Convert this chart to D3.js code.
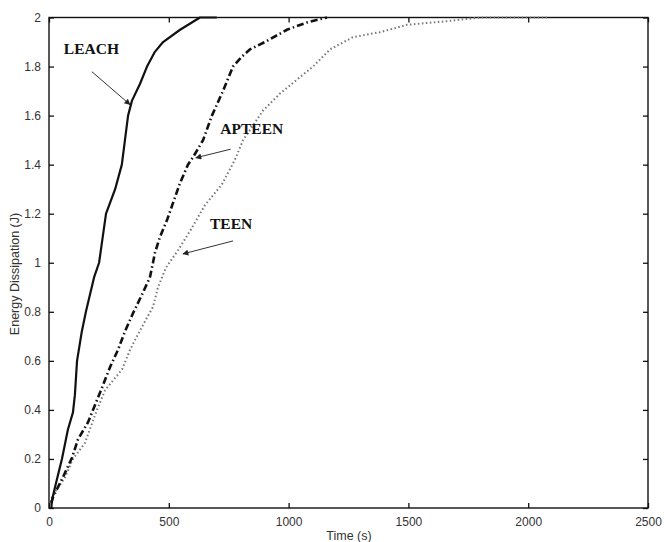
<!DOCTYPE html>
<html>
<head>
<meta charset="utf-8">
<script src="https://cdn.jsdelivr.net/npm/d3@7"></script>
<style>
  html, body { margin: 0; padding: 0; background: #fff; }
  svg { display: block; }
</style>
</head>
<body>
<svg id="chart" width="664" height="542"></svg>
<script>
// Energy dissipation over time for three clustering protocols
const leachTime   = [10, 12, 25, 54, 79, 100, 108, 117, 137, 154, 188, 209, 238, 276, 304, 317, 330, 346, 380, 409, 442, 476, 547, 630, 700];
const leachEnergy = [0.0, 0.03, 0.085, 0.2, 0.32, 0.39, 0.46, 0.6, 0.72, 0.8, 0.94, 1.0, 1.2, 1.3, 1.4, 1.5, 1.6, 1.66, 1.73, 1.8, 1.86, 1.9, 1.95, 2.0, 2.0];

const apteenTime   = [10, 17, 58, 96, 121, 163, 192, 221, 255, 288, 317, 351, 388, 421, 434, 442, 463, 493, 518, 547, 580, 601, 643, 680, 726, 768, 805, 839, 901, 993, 1077, 1160];
const apteenEnergy = [0.02, 0.045, 0.125, 0.205, 0.28, 0.35, 0.42, 0.49, 0.575, 0.645, 0.72, 0.795, 0.87, 0.94, 1.0, 1.04, 1.105, 1.175, 1.245, 1.325, 1.4, 1.43, 1.5, 1.6, 1.7, 1.8, 1.84, 1.87, 1.9, 1.95, 1.98, 2.0];

const teenTime   = [4, 25, 67, 100, 150, 200, 234, 267, 305, 338, 367, 400, 434, 455, 488, 538, 589, 651, 722, 776, 810, 893, 964, 1102, 1173, 1269, 1381, 1494, 1660, 1800, 2080];
const teenEnergy = [0.025, 0.065, 0.125, 0.2, 0.265, 0.4, 0.48, 0.52, 0.565, 0.645, 0.70, 0.76, 0.82, 0.90, 0.98, 1.05, 1.13, 1.235, 1.32, 1.42, 1.5, 1.62, 1.69, 1.8, 1.87, 1.92, 1.94, 1.97, 1.985, 2.0, 2.0];

const xTicks = [0, 500, 1000, 1500, 2000, 2500];
const yTicks = [0, 0.2, 0.4, 0.6, 0.8, 1, 1.2, 1.4, 1.6, 1.8, 2];
const xTitle = "Time (s)";
const yTitle = "Energy Dissipation (J)";

// Protocol labels with the point each arrow starts from and points at (data units)
const labelNames = ["LEACH", "APTEEN", "TEEN"];
const labelPos   = [[62, 1.851], [715, 1.524], [672, 1.137]];
const arrowFrom  = [[179, 1.779], [758, 1.463], [768, 1.089]];
const arrowTo    = [[338, 1.645], [613, 1.428], [559, 1.036]];

const svg = d3.select("#chart");
const m = { left: 49, right: 648, top: 17.5, bottom: 508 };

const x = d3.scaleLinear().domain([0, 2500]).range([m.left, m.right]);
const y = d3.scaleLinear().domain([0, 2]).range([m.bottom, m.top]);

const tickFont = "'Liberation Sans', Arial, sans-serif";

// Axes with inward ticks on all four sides
const gx = svg.append("g").attr("transform", `translate(0,${m.bottom})`)
  .call(d3.axisBottom(x).tickValues(xTicks).tickSize(-5).tickPadding(9).tickFormat(d3.format("d")));
const gxTop = svg.append("g").attr("transform", `translate(0,${m.top})`)
  .call(d3.axisTop(x).tickValues(xTicks).tickSize(-5).tickFormat(""));
const gy = svg.append("g").attr("transform", `translate(${m.left},0)`)
  .call(d3.axisLeft(y).tickValues(yTicks).tickSize(-5).tickPadding(8).tickFormat(d => d3.format("")(+d.toFixed(1))));
const gyR = svg.append("g").attr("transform", `translate(${m.right},0)`)
  .call(d3.axisRight(y).tickValues(yTicks).tickSize(-5).tickFormat(""));

[gx, gxTop, gy, gyR].forEach(g => {
  g.select(".domain").remove();
  g.selectAll(".tick line").attr("stroke", "#111").attr("stroke-width", 1.3);
  g.selectAll("text").attr("font-family", tickFont).attr("font-size", 12).attr("fill", "#333");
});

// Plot box
svg.append("rect")
  .attr("x", m.left).attr("y", m.top)
  .attr("width", m.right - m.left).attr("height", m.bottom - m.top)
  .attr("fill", "none").attr("stroke", "#111").attr("stroke-width", 1.4);

// Axis titles
svg.append("text")
  .attr("x", 349).attr("y", 540)
  .attr("text-anchor", "middle")
  .attr("font-family", tickFont).attr("font-size", 12.5).attr("fill", "#333")
  .text(xTitle);
svg.append("text")
  .attr("transform", "translate(19,274) rotate(-90)")
  .attr("text-anchor", "middle")
  .attr("font-family", tickFont).attr("font-size", 12.5).attr("fill", "#333")
  .text(yTitle);

// Curves
const line = d3.line().x(d => x(d[0])).y(d => y(d[1]));
const zip = (a, b) => a.map((v, i) => [v, b[i]]);

svg.append("path")
  .datum(zip(teenTime, teenEnergy))
  .attr("d", line)
  .attr("fill", "none").attr("stroke", "#777").attr("stroke-width", 2)
  .attr("stroke-dasharray", "1.5,2.5");

svg.append("path")
  .datum(zip(apteenTime, apteenEnergy))
  .attr("d", line)
  .attr("fill", "none").attr("stroke", "#111").attr("stroke-width", 2.6)
  .attr("stroke-dasharray", "7,3,1.5,3");

svg.append("path")
  .datum(zip(leachTime, leachEnergy))
  .attr("d", line)
  .attr("fill", "none").attr("stroke", "#111").attr("stroke-width", 2.2)
  .attr("stroke-linejoin", "round");

// Arrowhead marker
svg.append("defs").append("marker")
  .attr("id", "head")
  .attr("viewBox", "0 0 10 10")
  .attr("refX", 9).attr("refY", 5)
  .attr("markerWidth", 8).attr("markerHeight", 6)
  .attr("markerUnits", "userSpaceOnUse")
  .attr("orient", "auto")
  .append("path").attr("d", "M0,0 L10,5 L0,10 Z").attr("fill", "#222");

// Labels and arrows
labelNames.forEach((name, i) => {
  svg.append("text")
    .attr("x", x(labelPos[i][0])).attr("y", y(labelPos[i][1]))
    .attr("font-family", "'Liberation Serif', 'Times New Roman', serif")
    .attr("font-weight", "bold").attr("font-size", 15.5).attr("fill", "#111")
    .text(name);
  svg.append("line")
    .attr("x1", x(arrowFrom[i][0])).attr("y1", y(arrowFrom[i][1]))
    .attr("x2", x(arrowTo[i][0])).attr("y2", y(arrowTo[i][1]))
    .attr("stroke", "#333").attr("stroke-width", 1)
    .attr("marker-end", "url(#head)");
});
</script>
</body>
</html>
